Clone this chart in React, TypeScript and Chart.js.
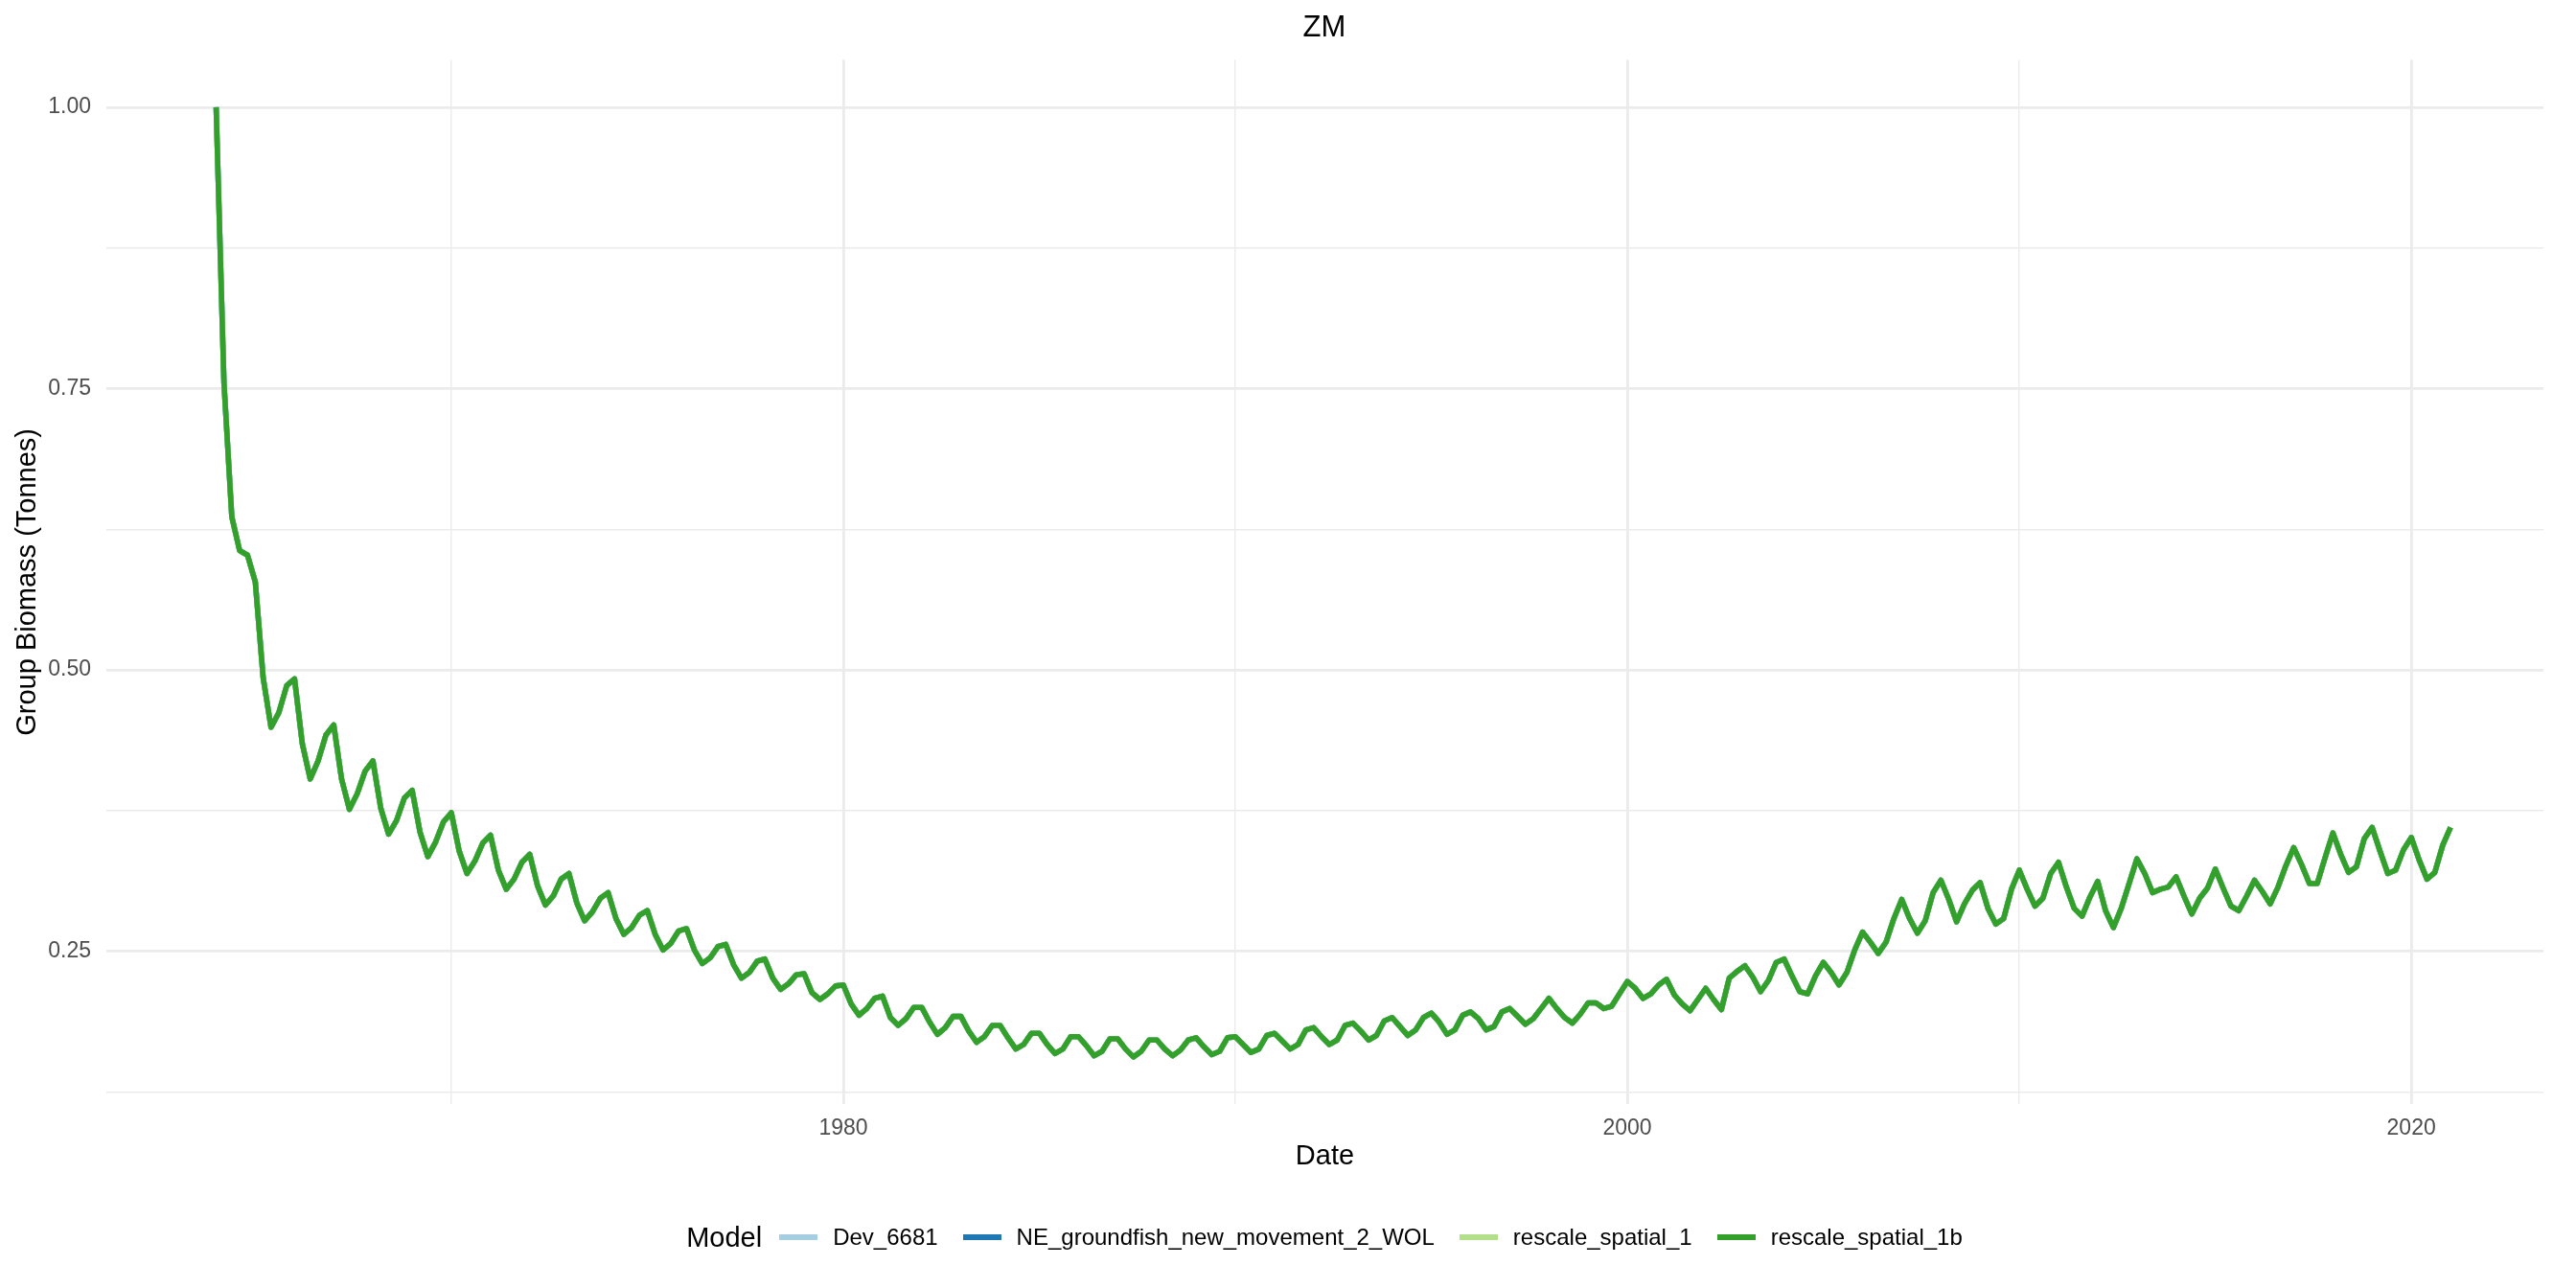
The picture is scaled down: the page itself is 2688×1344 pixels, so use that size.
import React, { useEffect, useRef } from 'react';
import { Chart, registerables } from 'chart.js';

Chart.register(...registerables);

// ---- data ----
const START_YEAR = 1964;
const STEPS_PER_YEAR = 5; // Atlantis output every 73 days

const biomass: number[] = [
  // 1964
  1.0, 0.755, 0.636, 0.606, 0.602,
  // 1965
  0.578, 0.493, 0.449, 0.462, 0.486,
  // 1966
  0.492, 0.434, 0.403, 0.419, 0.442,
  // 1967
  0.451, 0.403, 0.376, 0.39, 0.41,
  // 1968
  0.419, 0.377, 0.354, 0.366, 0.386,
  // 1969
  0.393, 0.356, 0.334, 0.347, 0.365,
  // 1970
  0.373, 0.339, 0.319, 0.33, 0.346,
  // 1971
  0.353, 0.322, 0.305, 0.314, 0.329,
  // 1972
  0.336, 0.308, 0.291, 0.299, 0.314,
  // 1973
  0.319, 0.293, 0.277, 0.285, 0.297,
  // 1974
  0.302, 0.279, 0.265, 0.271, 0.282,
  // 1975
  0.286, 0.265, 0.251, 0.257, 0.268,
  // 1976
  0.27, 0.251, 0.239, 0.244, 0.254,
  // 1977
  0.256, 0.238, 0.226, 0.231, 0.241,
  // 1978
  0.243, 0.226, 0.216, 0.221, 0.229,
  // 1979
  0.23, 0.213, 0.207, 0.212, 0.219,
  // 1980
  0.22, 0.203, 0.193, 0.199, 0.208,
  // 1981
  0.21, 0.191, 0.184, 0.19, 0.2,
  // 1982
  0.2, 0.187, 0.176, 0.182, 0.192,
  // 1983
  0.192, 0.179, 0.169, 0.174, 0.184,
  // 1984
  0.184, 0.173, 0.163, 0.167, 0.177,
  // 1985
  0.177, 0.167, 0.159, 0.163, 0.174,
  // 1986
  0.174, 0.166, 0.157, 0.161, 0.172,
  // 1987
  0.172, 0.163, 0.156, 0.161, 0.171,
  // 1988
  0.171, 0.163, 0.157, 0.162, 0.171,
  // 1989
  0.173, 0.165, 0.158, 0.161, 0.173,
  // 1990
  0.174, 0.167, 0.16, 0.163, 0.175,
  // 1991
  0.177, 0.17, 0.163, 0.167, 0.18,
  // 1992
  0.182, 0.174, 0.167, 0.171, 0.184,
  // 1993
  0.186, 0.179, 0.171, 0.175, 0.188,
  // 1994
  0.191, 0.183, 0.175, 0.18, 0.191,
  // 1995
  0.195, 0.187, 0.176, 0.18, 0.193,
  // 1996
  0.196, 0.19, 0.18, 0.183, 0.196,
  // 1997
  0.199, 0.192, 0.185, 0.19, 0.199,
  // 1998
  0.208, 0.199, 0.191, 0.186, 0.194,
  // 1999
  0.204, 0.204, 0.199, 0.201, 0.212,
  // 2000
  0.223, 0.217, 0.208, 0.212, 0.22,
  // 2001
  0.225, 0.211, 0.203, 0.197, 0.207,
  // 2002
  0.217, 0.207, 0.198, 0.226, 0.232,
  // 2003
  0.237, 0.227, 0.214, 0.224, 0.24,
  // 2004
  0.243, 0.228, 0.214, 0.212, 0.228,
  // 2005
  0.24, 0.231, 0.22, 0.231, 0.251,
  // 2006
  0.267, 0.258, 0.248, 0.258, 0.279,
  // 2007
  0.296, 0.279, 0.266, 0.277, 0.302,
  // 2008
  0.313, 0.296, 0.276, 0.292, 0.304,
  // 2009
  0.311, 0.288, 0.274, 0.279, 0.305,
  // 2010
  0.322, 0.305, 0.29, 0.297, 0.319,
  // 2011
  0.329, 0.307, 0.288, 0.281, 0.298,
  // 2012
  0.312, 0.286, 0.271, 0.288, 0.31,
  // 2013
  0.332, 0.319, 0.302, 0.305, 0.307,
  // 2014
  0.316, 0.299, 0.283, 0.297, 0.306,
  // 2015
  0.323, 0.306, 0.29, 0.286, 0.299,
  // 2016
  0.313, 0.303, 0.292, 0.307, 0.326,
  // 2017
  0.342, 0.327, 0.31, 0.31, 0.333,
  // 2018
  0.355, 0.336, 0.32, 0.325, 0.35,
  // 2019
  0.36, 0.339, 0.319, 0.322, 0.34,
  // 2020
  0.351, 0.331, 0.314, 0.32, 0.344,
  // 2021
  0.36,
];

const models: string[] = [
  'Dev_6681',
  'NE_groundfish_new_movement_2_WOL',
  'rescale_spatial_1',
  'rescale_spatial_1b',
];
const modelColors: string[] = ['#A6CEE3', '#1F78B4', '#B2DF8A', '#33A02C'];

const yGridValues: number[] = [0.125, 0.25, 0.375, 0.5, 0.625, 0.75, 0.875, 1.0];
const yLabelValues: number[] = [0.25, 0.5, 0.75, 1.0];
const xGridValues: number[] = [1970, 1980, 1990, 2000, 2010, 2020];
const xLabelValues: number[] = [1980, 2000, 2020];

const TITLE = 'ZM';
const X_TITLE = 'Date';
const Y_TITLE = 'Group Biomass (Tonnes)';
const LEGEND_TITLE = 'Model';

// ---- style ----
const FONT = "'Liberation Sans', Arial, Helvetica, sans-serif";
const W = 2688;
const H = 1344;
const GRID = '#EBEBEB';
const LINE_W = 5.6;
const PANEL_CENTER_X = 1382;

export default function App() {
  const canvasRef = useRef<HTMLCanvasElement | null>(null);

  useEffect(() => {
    const canvas = canvasRef.current;
    if (!canvas) return;
    const points = biomass.map((v, i) => ({ x: START_YEAR + i / STEPS_PER_YEAR, y: v }));
    const chart = new Chart(canvas, {
      type: 'line',
      data: {
        datasets: models.map((m, k) => ({
          label: m,
          data: points,
          borderColor: modelColors[k],
          backgroundColor: modelColors[k],
          borderWidth: LINE_W,
          pointRadius: 0,
          tension: 0,
          fill: false,
          borderJoinStyle: 'round' as const,
          order: models.length - k,
        })),
      },
      options: {
        animation: false,
        responsive: false,
        maintainAspectRatio: false,
        events: [],
        layout: { padding: { left: 0, right: 34, top: 62.4, bottom: 114 } },
        plugins: {
          legend: { display: false },
          tooltip: { enabled: false },
          title: { display: false },
        },
        scales: {
          x: {
            type: 'linear',
            min: 1961.2,
            max: 2023.37,
            afterBuildTicks: (scale: any) => {
              scale.ticks = xGridValues.map((v) => ({ value: v }));
            },
            afterFit: (scale: any) => {
              scale.height = 77.6;
            },
            ticks: {
              autoSkip: false,
              maxRotation: 0,
              padding: 11,
              color: '#4D4D4D',
              font: { family: FONT, size: 23 },
              callback: (v: any) => (xLabelValues.includes(Number(v)) ? String(v) : ''),
            },
            grid: {
              drawTicks: false,
              color: GRID,
              lineWidth: (ctx: any) => (ctx.tick && xLabelValues.includes(ctx.tick.value) ? 2.8 : 1.4),
            },
            border: { display: false },
            title: {
              display: true,
              text: X_TITLE,
              color: '#000000',
              font: { family: FONT, size: 29 },
              padding: { top: 0, bottom: 6 },
            },
          },
          y: {
            type: 'linear',
            min: 0.1138,
            max: 1.0422,
            afterBuildTicks: (scale: any) => {
              scale.ticks = yGridValues.map((v) => ({ value: v }));
            },
            afterFit: (scale: any) => {
              scale.width = 111;
            },
            ticks: {
              autoSkip: false,
              padding: 16,
              color: '#4D4D4D',
              font: { family: FONT, size: 23 },
              callback: (v: any) => (yLabelValues.includes(Number(v)) ? Number(v).toFixed(2) : ''),
            },
            grid: {
              drawTicks: false,
              color: GRID,
              lineWidth: (ctx: any) => (ctx.tick && yLabelValues.includes(ctx.tick.value) ? 2.8 : 1.4),
            },
            border: { display: false },
            title: {
              display: true,
              text: Y_TITLE,
              color: '#000000',
              font: { family: FONT, size: 29 },
              padding: { top: 12, bottom: 0 },
            },
          },
        },
      },
    });
    return () => {
      chart.destroy();
    };
  }, []);

  return (
    <div
      style={{
        position: 'absolute',
        left: 0,
        top: 0,
        width: W,
        height: H,
        background: '#ffffff',
        overflow: 'hidden',
        fontFamily: FONT,
      }}
    >
      <canvas ref={canvasRef} width={W} height={H} style={{ width: W, height: H, display: 'block' }} />
      <div
        style={{
          position: 'absolute',
          left: PANEL_CENTER_X - 200,
          width: 400,
          top: 28 - 20,
          height: 40,
          lineHeight: '40px',
          textAlign: 'center',
          fontSize: 31,
          color: '#000',
        }}
      >
        {TITLE}
      </div>
      <div
        style={{
          position: 'absolute',
          left: PANEL_CENTER_X - 1000,
          width: 2000,
          top: 1291 - 20,
          height: 40,
          display: 'flex',
          alignItems: 'center',
          justifyContent: 'center',
        }}
      >
        <span style={{ fontSize: 29, color: '#000', marginRight: 18 }}>{LEGEND_TITLE}</span>
        {models.map((m, k) => (
          <div key={m} style={{ display: 'flex', alignItems: 'center', marginRight: k < models.length - 1 ? 26 : 0 }}>
            <div style={{ width: 40, height: LINE_W, background: modelColors[k] }} />
            <span style={{ fontSize: 24, color: '#000', marginLeft: 16 }}>{m}</span>
          </div>
        ))}
      </div>
    </div>
  );
}
